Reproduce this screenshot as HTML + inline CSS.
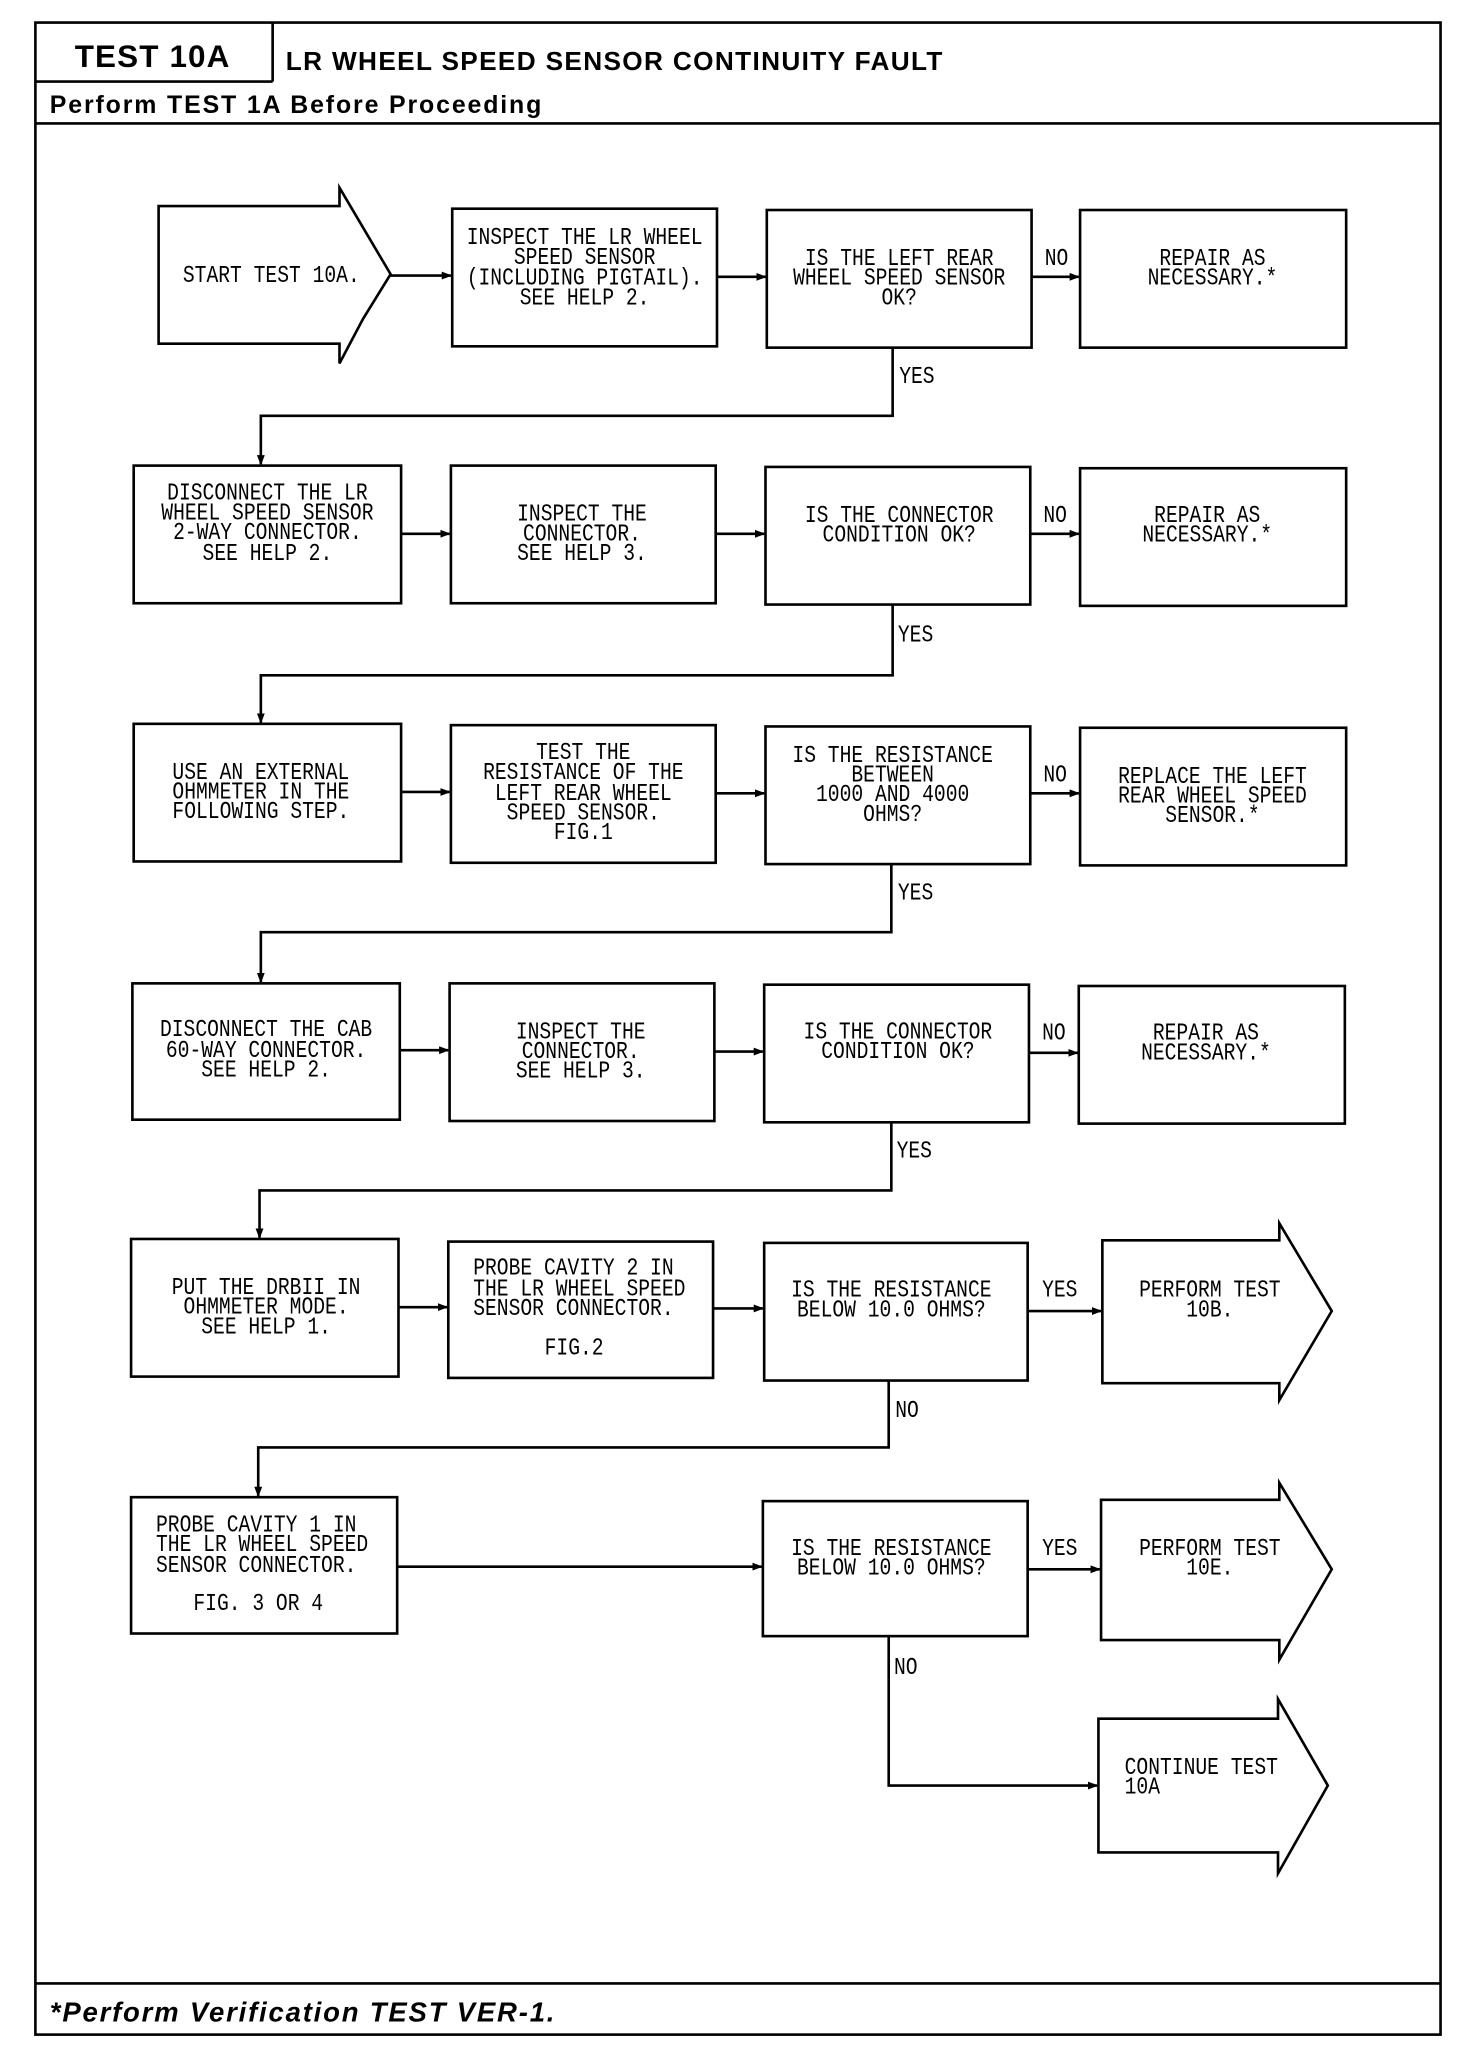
<!DOCTYPE html>
<html><head><meta charset="utf-8"><style>
html,body{margin:0;padding:0;background:#fff}
svg{display:block}
.m{font-family:"Liberation Mono",monospace;font-size:15px;fill:#000}
.b{fill:#fff;stroke:#000;stroke-width:2}
.l{fill:none;stroke:#000;stroke-width:2}
</style></head><body>
<svg width="1472" height="2048" viewBox="0 0 1123 1562" xmlns="http://www.w3.org/2000/svg">
<defs><marker id="a" markerWidth="8" markerHeight="8" refX="7" refY="4" orient="auto" markerUnits="userSpaceOnUse"><path d="M0,1 L8,4 L0,7 Z" fill="#000"/></marker></defs>
<rect x="27" y="17" width="1072" height="1535" class="l" stroke-width="2.5"/>
<line x1="208" y1="17" x2="208" y2="62" class="l"/>
<line x1="27" y1="62" x2="208" y2="62" class="l" stroke-width="1.5"/>
<line x1="27" y1="94" x2="1099" y2="94" class="l" stroke-width="2.5"/>
<line x1="27" y1="1513" x2="1099" y2="1513" class="l" stroke-width="2.5"/>
<text x="57" y="51" font-family="Liberation Sans,sans-serif" font-weight="bold" font-size="24" textLength="118">TEST 10A</text>
<text x="218" y="53" font-family="Liberation Sans,sans-serif" font-weight="bold" font-size="20" textLength="501">LR WHEEL SPEED SENSOR CONTINUITY FAULT</text>
<text x="38" y="86" font-family="Liberation Sans,sans-serif" font-weight="bold" font-size="19" textLength="375">Perform TEST 1A Before Proceeding</text>
<text x="38" y="1542" font-family="Liberation Sans,sans-serif" font-weight="bold" font-style="italic" font-size="21" textLength="385">*Perform Verification TEST VER-1.</text>

<!-- shapes -->
<polygon class="b" points="121,157 259,157 259,143 298,209 277,243 259,277 259,262 121,262"/>
<rect class="b" x="345" y="159" width="202" height="105"/>
<rect class="b" x="585" y="160" width="202" height="105"/>
<rect class="b" x="824" y="160" width="203" height="105"/>

<rect class="b" x="102" y="355" width="204" height="105"/>
<rect class="b" x="344" y="355" width="202" height="105"/>
<rect class="b" x="584" y="356" width="202" height="105"/>
<rect class="b" x="824" y="357" width="203" height="105"/>

<rect class="b" x="102" y="552" width="204" height="105"/>
<rect class="b" x="344" y="553" width="202" height="105"/>
<rect class="b" x="584" y="554" width="202" height="105"/>
<rect class="b" x="824" y="555" width="203" height="105"/>

<rect class="b" x="101" y="750" width="204" height="104"/>
<rect class="b" x="343" y="750" width="202" height="105"/>
<rect class="b" x="583" y="751" width="202" height="105"/>
<rect class="b" x="823" y="752" width="203" height="105"/>

<rect class="b" x="100" y="945" width="204" height="105"/>
<rect class="b" x="342" y="947" width="202" height="104"/>
<rect class="b" x="583" y="948" width="201" height="105"/>
<polygon class="b" points="841,946 976,946 976,933 1016,1000 976,1068 976,1055 841,1055"/>

<rect class="b" x="100" y="1142" width="203" height="104"/>
<rect class="b" x="582" y="1145" width="202" height="103"/>
<polygon class="b" points="840,1144 976,1144 976,1131 1016,1197 976,1266 976,1251 840,1251"/>
<polygon class="b" points="838,1311 975,1311 975,1296 1013,1362 975,1429 975,1413 838,1413"/>

<!-- connectors -->
<g class="l" marker-end="url(#a)">
<line x1="298" y1="210" x2="344" y2="210"/>
<line x1="547" y1="211" x2="584" y2="211"/>
<line x1="787" y1="211" x2="823" y2="211"/>
<polyline points="681,265 681,317 199,317 199,354"/>
<line x1="306" y1="407" x2="343" y2="407"/>
<line x1="546" y1="407" x2="583" y2="407"/>
<line x1="786" y1="407" x2="823" y2="407"/>
<polyline points="681,461 681,515 199,515 199,551"/>
<line x1="306" y1="604" x2="343" y2="604"/>
<line x1="546" y1="605" x2="583" y2="605"/>
<line x1="786" y1="605" x2="823" y2="605"/>
<polyline points="680,659 680,711 199,711 199,749"/>
<line x1="305" y1="801" x2="342" y2="801"/>
<line x1="545" y1="802" x2="582" y2="802"/>
<line x1="785" y1="803" x2="822" y2="803"/>
<polyline points="680,856 680,908 198,908 198,944"/>
<line x1="304" y1="997" x2="341" y2="997"/>
<line x1="544" y1="998" x2="582" y2="998"/>
<line x1="784" y1="1000" x2="840" y2="1000"/>
<polyline points="678,1053 678,1104 197,1104 197,1141"/>
<line x1="303" y1="1195" x2="581" y2="1195"/>
<line x1="784" y1="1197" x2="839" y2="1197"/>
<polyline points="678,1248 678,1362 837,1362"/>
</g>

<!-- texts -->
<g class="m" text-anchor="middle">
<text transform="translate(207,215) scale(1,1.2)">START TEST 10A.</text>
<text transform="translate(446,186) scale(1,1.2)">INSPECT THE LR WHEEL</text>
<text transform="translate(446,201) scale(1,1.2)">SPEED SENSOR</text>
<text transform="translate(446,217) scale(1,1.2)">(INCLUDING PIGTAIL).</text>
<text transform="translate(446,232) scale(1,1.2)">SEE HELP 2.</text>
<text transform="translate(686,202) scale(1,1.2)">IS THE LEFT REAR</text>
<text transform="translate(686,217) scale(1,1.2)">WHEEL SPEED SENSOR</text>
<text transform="translate(686,232) scale(1,1.2)">OK?</text>
<text transform="translate(925,202) scale(1,1.2)">REPAIR AS</text>
<text transform="translate(925,217) scale(1,1.2)">NECESSARY.*</text>

<text transform="translate(204,381) scale(1,1.2)">DISCONNECT THE LR</text>
<text transform="translate(204,396) scale(1,1.2)">WHEEL SPEED SENSOR</text>
<text transform="translate(204,411) scale(1,1.2)">2-WAY CONNECTOR.</text>
<text transform="translate(204,427) scale(1,1.2)">SEE HELP 2.</text>
<text transform="translate(444,397) scale(1,1.2)">INSPECT THE</text>
<text transform="translate(444,412) scale(1,1.2)">CONNECTOR.</text>
<text transform="translate(444,427) scale(1,1.2)">SEE HELP 3.</text>
<text transform="translate(686,398) scale(1,1.2)">IS THE CONNECTOR</text>
<text transform="translate(686,413) scale(1,1.2)">CONDITION OK?</text>
<text transform="translate(921,398) scale(1,1.2)">REPAIR AS</text>
<text transform="translate(921,413) scale(1,1.2)">NECESSARY.*</text>

<text transform="translate(199,594) scale(1,1.2)">USE AN EXTERNAL</text>
<text transform="translate(199,609) scale(1,1.2)">OHMMETER IN THE</text>
<text transform="translate(199,624) scale(1,1.2)">FOLLOWING STEP.</text>
<text transform="translate(445,579) scale(1,1.2)">TEST THE</text>
<text transform="translate(445,594) scale(1,1.2)">RESISTANCE OF THE</text>
<text transform="translate(445,610) scale(1,1.2)">LEFT REAR WHEEL</text>
<text transform="translate(445,625) scale(1,1.2)">SPEED SENSOR.</text>
<text transform="translate(445,640) scale(1,1.2)">FIG.1</text>
<text transform="translate(681,581) scale(1,1.2)">IS THE RESISTANCE</text>
<text transform="translate(681,596) scale(1,1.2)">BETWEEN</text>
<text transform="translate(681,611) scale(1,1.2)">1000 AND 4000</text>
<text transform="translate(681,626) scale(1,1.2)">OHMS?</text>
<text transform="translate(925,597) scale(1,1.2)">REPLACE THE LEFT</text>
<text transform="translate(925,612) scale(1,1.2)">REAR WHEEL SPEED</text>
<text transform="translate(925,627) scale(1,1.2)">SENSOR.*</text>

<text transform="translate(203,790) scale(1,1.2)">DISCONNECT THE CAB</text>
<text transform="translate(203,806) scale(1,1.2)">60-WAY CONNECTOR.</text>
<text transform="translate(203,821) scale(1,1.2)">SEE HELP 2.</text>
<text transform="translate(443,792) scale(1,1.2)">INSPECT THE</text>
<text transform="translate(443,807) scale(1,1.2)">CONNECTOR.</text>
<text transform="translate(443,822) scale(1,1.2)">SEE HELP 3.</text>
<text transform="translate(685,792) scale(1,1.2)">IS THE CONNECTOR</text>
<text transform="translate(685,807) scale(1,1.2)">CONDITION OK?</text>
<text transform="translate(920,793) scale(1,1.2)">REPAIR AS</text>
<text transform="translate(920,808) scale(1,1.2)">NECESSARY.*</text>

<text transform="translate(203,987) scale(1,1.2)">PUT THE DRBII IN</text>
<text transform="translate(203,1002) scale(1,1.2)">OHMMETER MODE.</text>
<text transform="translate(203,1017) scale(1,1.2)">SEE HELP 1.</text>
<text transform="translate(438,1033) scale(1,1.2)">FIG.2</text>
<text transform="translate(680,989) scale(1,1.2)">IS THE RESISTANCE</text>
<text transform="translate(680,1004) scale(1,1.2)">BELOW 10.0 OHMS?</text>
<text transform="translate(923,989) scale(1,1.2)">PERFORM TEST</text>
<text transform="translate(923,1004) scale(1,1.2)">10B.</text>

<text transform="translate(197,1228) scale(1,1.2)">FIG. 3 OR 4</text>
<text transform="translate(680,1186) scale(1,1.2)">IS THE RESISTANCE</text>
<text transform="translate(680,1201) scale(1,1.2)">BELOW 10.0 OHMS?</text>
<text transform="translate(923,1186) scale(1,1.2)">PERFORM TEST</text>
<text transform="translate(923,1201) scale(1,1.2)">10E.</text>
</g>
<g class="m">
<text transform="translate(361,972) scale(1,1.2)">PROBE CAVITY 2 IN</text>
<text transform="translate(361,988) scale(1,1.2)">THE LR WHEEL SPEED</text>
<text transform="translate(361,1003) scale(1,1.2)">SENSOR CONNECTOR.</text>
<text transform="translate(119,1168) scale(1,1.2)">PROBE CAVITY 1 IN</text>
<text transform="translate(119,1183) scale(1,1.2)">THE LR WHEEL SPEED</text>
<text transform="translate(119,1199) scale(1,1.2)">SENSOR CONNECTOR.</text>
<text transform="translate(858,1353) scale(1,1.2)">CONTINUE TEST</text>
<text transform="translate(858,1368) scale(1,1.2)">10A</text>
<text transform="translate(797,202) scale(1,1.2)">NO</text>
<text transform="translate(686,292) scale(1,1.2)">YES</text>
<text transform="translate(796,398) scale(1,1.2)">NO</text>
<text transform="translate(685,489) scale(1,1.2)">YES</text>
<text transform="translate(796,596) scale(1,1.2)">NO</text>
<text transform="translate(685,686) scale(1,1.2)">YES</text>
<text transform="translate(795,793) scale(1,1.2)">NO</text>
<text transform="translate(684,883) scale(1,1.2)">YES</text>
<text transform="translate(795,989) scale(1,1.2)">YES</text>
<text transform="translate(683,1081) scale(1,1.2)">NO</text>
<text transform="translate(795,1186) scale(1,1.2)">YES</text>
<text transform="translate(682,1277) scale(1,1.2)">NO</text>
</g>
</svg>
</body></html>
